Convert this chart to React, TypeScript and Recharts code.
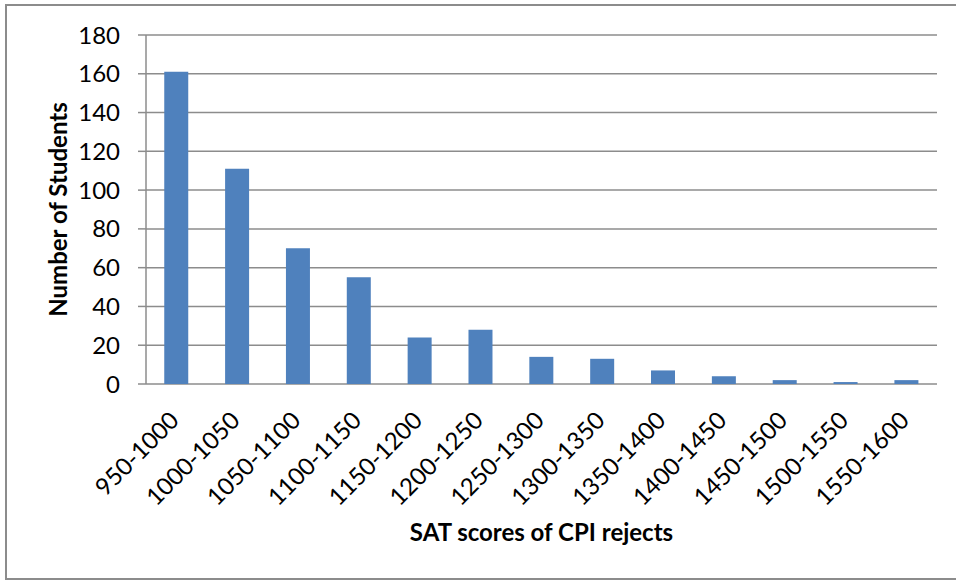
import React from "react";
import { BarChart, Bar, XAxis, YAxis, CartesianGrid } from "recharts";

const ranges = [
  "950-1000",
  "1000-1050",
  "1050-1100",
  "1100-1150",
  "1150-1200",
  "1200-1250",
  "1250-1300",
  "1300-1350",
  "1350-1400",
  "1400-1450",
  "1450-1500",
  "1500-1550",
  "1550-1600",
];
const students = [161, 111, 70, 55, 24, 28, 14, 13, 7, 4, 2, 1, 2];
const yTicks = [0, 20, 40, 60, 80, 100, 120, 140, 160, 180];
const edgeTicks = [0, 1, 2, 3, 4, 5, 6, 7, 8, 9, 10, 11, 12, 13];

const data = ranges.map((r, i) => ({ range: r, students: students[i] }));

const ink = "#8c8c8c";
const font = "Lato, 'Open Sans', sans-serif";

// Excel style slanted labels, right end sits just under the bar
const SlantTick = (props: any) => {
  const { x, y, payload } = props;
  return (
    <g transform={`translate(${x + 4},${y + 38})`}>
      <text
        transform="rotate(-45)"
        textAnchor="end"
        fontSize={24}
        fontFamily={font}
        fill="#000"
      >
        {payload.value}
      </text>
    </g>
  );
};

export default function App() {
  return (
    <div>
      <div
        style={{
          position: "absolute",
          left: 5,
          top: 4,
          width: 960,
          height: 576,
          border: `2px solid ${ink}`,
          boxSizing: "border-box",
        }}
      />
      <div style={{ position: "absolute", left: 0, top: 0, width: 956, height: 581 }}>
        <BarChart
          width={956}
          height={581}
          data={data}
          margin={{ top: 35, right: 19, bottom: 0, left: 0 }}
          barCategoryGap="30%"
        >
          <CartesianGrid vertical={false} stroke={ink} strokeWidth={1.5} />
          <XAxis
            xAxisId="edges"
            type="number"
            domain={[0, 13]}
            ticks={edgeTicks}
            height={0}
            tick={false}
            tickSize={8}
            axisLine={{ stroke: ink, strokeWidth: 1.5 }}
            tickLine={{ stroke: ink, strokeWidth: 1.5 }}
            allowDataOverflow
          />
          <XAxis
            dataKey="range"
            interval={0}
            height={197}
            axisLine={false}
            tickLine={false}
            tickSize={0}
            tickMargin={0}
            tick={<SlantTick />}
            label={{
              value: "SAT scores of CPI rejects",
              position: "insideBottom",
              offset: 40,
              style: { fontSize: 24, fontWeight: 700, fontFamily: font, fill: "#000" },
            }}
          />
          <YAxis
            width={146}
            domain={[0, 180]}
            ticks={yTicks}
            interval={0}
            tickSize={8}
            tickMargin={18}
            axisLine={{ stroke: ink, strokeWidth: 1.5 }}
            tickLine={{ stroke: ink, strokeWidth: 1.5 }}
            tick={{ fontSize: 24, fontFamily: font, fill: "#000" }}
            label={{
              value: "Number of Students",
              angle: -90,
              position: "center",
              dx: -15,
              style: { fontSize: 24, fontWeight: 700, fontFamily: font, fill: "#000" },
            }}
          />
          <Bar dataKey="students" fill="#4f81bd" isAnimationActive={false} />
        </BarChart>
      </div>
    </div>
  );
}
